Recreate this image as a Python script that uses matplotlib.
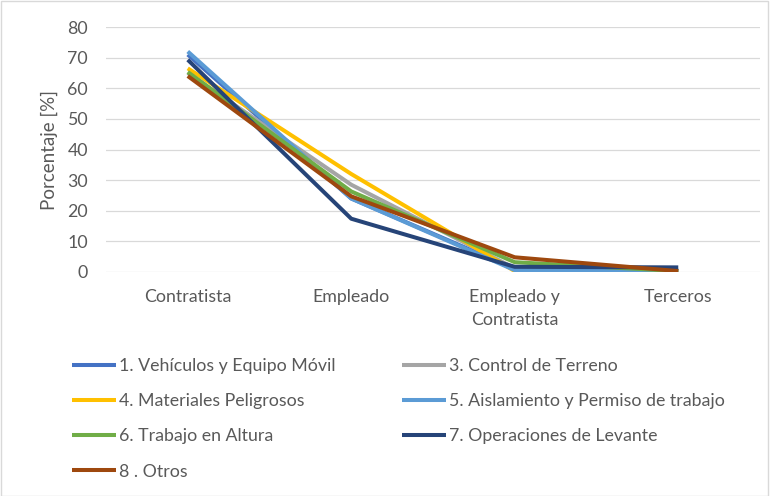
import matplotlib.pyplot as plt
from matplotlib.patches import Rectangle

# categories along x
categorias = ['Contratista', 'Empleado', 'Empleado y\nContratista', 'Terceros']

# percentage per series
vehiculos = [71, 24, 1.0, 0.5]
terreno = [65, 28.5, 1.2, 0.3]
materiales = [66.5, 32, 0.3, 0.2]
aislamiento = [72, 24, 0.6, 0.3]
altura = [65.3, 26.3, 3.2, 0.3]
levante = [69.3, 17.4, 1.7, 1.5]
otros = [64, 24.7, 4.8, 0.3]

series = [
    ('1. Vehículos y Equipo Móvil', vehiculos, '#4472C4'),
    ('3. Control de Terreno', terreno, '#A5A5A5'),
    ('4. Materiales Peligrosos', materiales, '#FFC000'),
    ('5. Aislamiento y Permiso de trabajo', aislamiento, '#5B9BD5'),
    ('6. Trabajo en Altura', altura, '#70AD47'),
    ('7. Operaciones de Levante', levante, '#264478'),
    ('8 . Otros', otros, '#9E480E'),
]

plt.rcParams['font.family'] = ['Lato', 'DejaVu Sans']
txt = '#595959'
fs = 12.8

fig = plt.figure(figsize=(7.7, 4.96), dpi=100)
ax = fig.add_axes([106 / 770, 1 - 272 / 496, 654 / 770, 245 / 496])

x = list(range(len(categorias)))
lines = {}
for nombre, vals, col in series:
    ln, = ax.plot(x, vals, color=col, lw=2.9, solid_capstyle='butt', label=nombre)
    lines[nombre] = ln

ax.set_xlim(-0.5, len(categorias) - 0.5)
ax.set_ylim(0, 80)
ax.set_yticks(range(0, 81, 10))
ax.set_xticks(x)
ax.set_xticklabels(categorias, fontsize=fs, color=txt, linespacing=1.6)
ax.tick_params(axis='y', labelsize=fs, labelcolor=txt, length=0, pad=13)
ax.tick_params(axis='x', length=0, pad=12)
ax.yaxis.grid(True, color='#D9D9D9', lw=0.9)
ax.set_axisbelow(True)
for s in ax.spines.values():
    s.set_visible(False)
ax.set_ylabel('Porcentaje [%]', fontsize=13.5, color=txt, labelpad=7)

# legend in two columns
col1 = [0, 2, 4, 6]
col2 = [1, 3, 5]
opts = dict(loc='upper left', frameon=False, fontsize=fs, labelcolor=txt,
            handlelength=2.5, handletextpad=0.15, labelspacing=1.08,
            borderpad=0, borderaxespad=0)
for idx, x0 in ((col1, 72), (col2, 402)):
    fig.legend([lines[series[i][0]] for i in idx], [series[i][0] for i in idx],
               bbox_to_anchor=(x0 / 770, 1 - 358 / 496), **opts)

fig.patches.append(Rectangle((0.001, 0.001), 0.997, 0.997, transform=fig.transFigure,
                             fill=False, edgecolor='#D9D9D9', lw=1))

fig.savefig('out.png', dpi=100)
